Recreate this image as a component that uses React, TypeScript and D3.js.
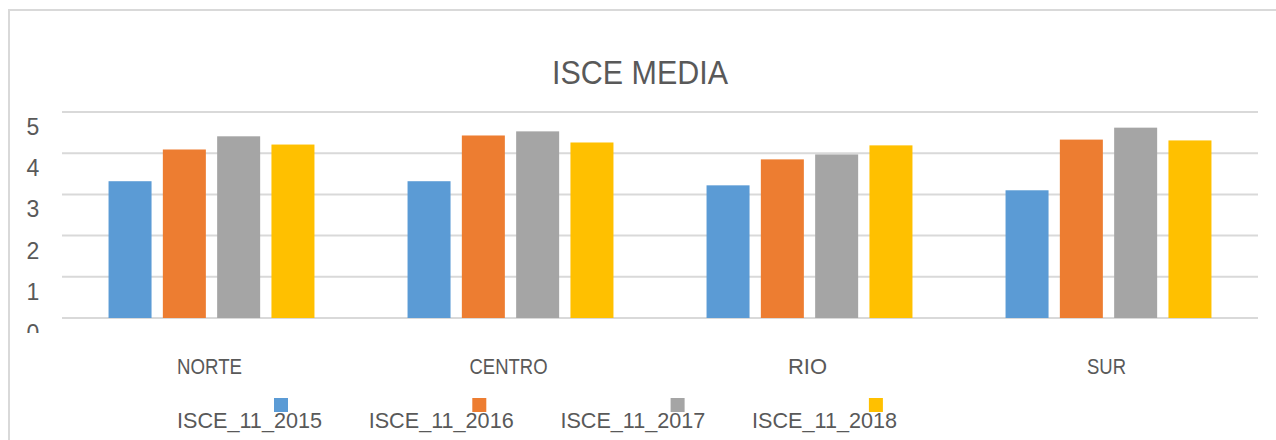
import * as d3 from "d3";
import { useEffect, useRef } from "react";

// regions and series
const regions = ["NORTE", "CENTRO", "RIO", "SUR"];
const seriesNames = ["ISCE_11_2015", "ISCE_11_2016", "ISCE_11_2017", "ISCE_11_2018"];
const isce2015 = [3.32, 3.32, 3.22, 3.1];
const isce2016 = [4.09, 4.43, 3.85, 4.33];
const isce2017 = [4.41, 4.53, 3.97, 4.62];
const isce2018 = [4.21, 4.26, 4.19, 4.31];
const yTicks = [0, 1, 2, 3, 4, 5];
const colors = ["#5B9BD5", "#ED7D31", "#A5A5A5", "#FFC000"];

const W = 1276,
  H = 440;
const FONT = "'Liberation Sans', Arial, sans-serif";
const TXT = "#595959";

const App = () => {
  const svgRef = useRef<SVGSVGElement>(null);

  useEffect(() => {
    const svg = d3.select(svgRef.current);
    svg.selectAll("*").remove();

    const series = [isce2015, isce2016, isce2017, isce2018];

    // chart frame (only top + left visible in the crop)
    svg
      .append("rect")
      .attr("x", 9)
      .attr("y", 10)
      .attr("width", W + 20)
      .attr("height", H + 20)
      .attr("fill", "white")
      .attr("stroke", "#d9d9d9")
      .attr("stroke-width", 2);

    // title
    svg
      .append("text")
      .attr("x", 552)
      .attr("y", 84)
      .attr("font-family", FONT)
      .attr("font-size", 33)
      .attr("fill", TXT)
      .attr("textLength", 176)
      .attr("lengthAdjust", "spacingAndGlyphs")
      .text("ISCE MEDIA");

    const x0 = d3.scaleBand().domain(regions).range([62, 1258]);
    const x1 = d3
      .scaleBand()
      .domain(d3.range(series.length).map(String))
      .range([0, x0.bandwidth()])
      .paddingInner(0.208)
      .paddingOuter(0.857);
    const y = d3.scaleLinear().domain([0, 5]).range([318, 112]);

    // gridlines
    svg
      .append("g")
      .selectAll("line")
      .data(yTicks)
      .join("line")
      .attr("x1", 62)
      .attr("x2", 1258)
      .attr("y1", (d) => y(d))
      .attr("y2", (d) => y(d))
      .attr("stroke", "#d9d9d9")
      .attr("stroke-width", 2);

    // y labels (shifted below their lines, the bottom one is cut off)
    const clip = svg.append("clipPath").attr("id", "yclip");
    clip.append("rect").attr("x", 0).attr("y", 0).attr("width", 60).attr("height", 333);
    svg
      .append("g")
      .attr("clip-path", "url(#yclip)")
      .selectAll("text")
      .data(yTicks)
      .join("text")
      .attr("x", 33)
      .attr("y", (d) => y(d) + 23)
      .attr("text-anchor", "middle")
      .attr("font-family", FONT)
      .attr("font-size", 23)
      .attr("fill", TXT)
      .text((d) => d);

    // bars
    const groups = svg
      .append("g")
      .selectAll("g")
      .data(regions)
      .join("g")
      .attr("transform", (d) => `translate(${x0(d)},0)`);

    groups
      .selectAll("rect")
      .data((_, i) => series.map((s, k) => ({ k, v: s[i] })))
      .join("rect")
      .attr("x", (d) => x1(String(d.k))!)
      .attr("width", x1.bandwidth())
      .attr("y", (d) => y(d.v))
      .attr("height", (d) => y(0) - y(d.v))
      .attr("fill", (d) => colors[d.k]);

    // category labels
    svg
      .append("g")
      .selectAll("text")
      .data(regions)
      .join("text")
      .attr("x", (d) => x0(d)! + x0.bandwidth() / 2 - 2)
      .attr("y", 374)
      .attr("text-anchor", "middle")
      .attr("font-family", FONT)
      .attr("font-size", 22)
      .attr("fill", TXT)
      .attr("textLength", (d) => d.length * 13)
      .attr("lengthAdjust", "spacingAndGlyphs")
      .text((d) => d);

    // legend
    const leg = svg
      .append("g")
      .selectAll("g")
      .data(seriesNames)
      .join("g");
    leg
      .append("text")
      .attr("x", (_, i) => 177 + i * 191.7)
      .attr("y", 428)
      .attr("font-family", FONT)
      .attr("font-size", 22)
      .attr("fill", TXT)
      .attr("textLength", 145)
      .attr("lengthAdjust", "spacingAndGlyphs")
      .text((d) => d);
    leg
      .append("rect")
      .attr("x", (_, i) => 274 + i * 198.3)
      .attr("y", 398)
      .attr("width", 14)
      .attr("height", 14)
      .attr("fill", (_, i) => colors[i]);
  }, []);

  return (
    <svg
      ref={svgRef}
      width={W}
      height={H}
      style={{ position: "absolute", left: 0, top: 0 }}
    ></svg>
  );
};

export default App;
